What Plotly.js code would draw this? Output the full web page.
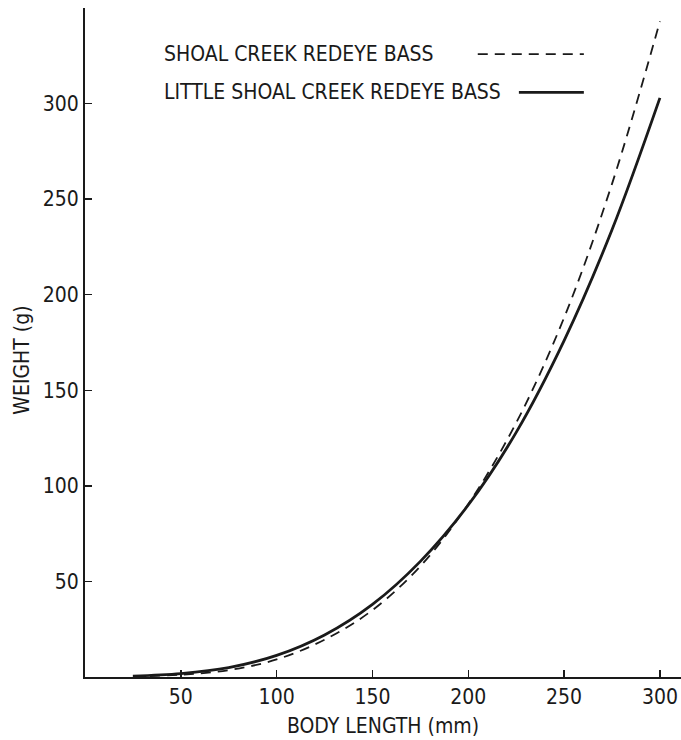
<!DOCTYPE html>
<html>
<head>
<meta charset="utf-8">
<script src="https://cdn.plot.ly/plotly-3.0.1.min.js"></script>
<style>html,body{margin:0;padding:0;background:#fff;}#chart{width:681px;height:740px;}</style>
</head>
<body>
<div id="chart"></div>
<script>
var lengthMm = [25, 50, 75, 100, 125, 150, 175, 200, 225, 250, 275, 300];
var shoalCreekWeight = [0.3, 1.2, 3.6, 9.2, 19.5, 35, 58, 90.5, 133, 188, 258, 343];
var littleShoalWeight = [0.5, 1.8, 4.9, 11.3, 22, 38, 60.5, 90, 128, 176, 234, 303];
var tickVals = [50, 100, 150, 200, 250, 300];
var tickText = ['50', '100', '150', '200', '250', '300'];
var seriesNames = ['SHOAL CREEK REDEYE BASS', 'LITTLE SHOAL CREEK REDEYE BASS'];

var FONT = '"DejaVu Sans Condensed", "Liberation Sans Narrow", "Liberation Sans", sans-serif';
var INK = '#1a1a1a';

var traces = [
  {x: lengthMm, y: shoalCreekWeight, mode: 'lines', name: seriesNames[0],
   line: {color: INK, width: 1.8, dash: '10px,7px', shape: 'spline'}, showlegend: false},
  {x: lengthMm, y: littleShoalWeight, mode: 'lines', name: seriesNames[1],
   line: {color: INK, width: 2.8, shape: 'spline'}, showlegend: false}
];

var layout = {
  width: 681, height: 740,
  margin: {l: 85, r: 0, t: 8, b: 63},
  paper_bgcolor: '#fff', plot_bgcolor: '#fff',
  font: {family: FONT, color: INK, size: 21},
  xaxis: {
    range: [0, 311], showgrid: false, zeroline: false,
    showline: true, linecolor: INK, linewidth: 2,
    ticks: 'inside', ticklen: 7, tickwidth: 1.5, tickcolor: INK,
    tickvals: tickVals, ticktext: tickText,
    tickfont: {family: FONT, size: 21, color: INK},
    title: {text: 'BODY LENGTH (mm)', font: {family: FONT, size: 21, color: INK}, standoff: 10}
  },
  yaxis: {
    range: [0, 350], showgrid: false, zeroline: false,
    showline: true, linecolor: INK, linewidth: 2,
    ticks: 'inside', ticklen: 7, tickwidth: 1.5, tickcolor: INK,
    tickvals: tickVals, ticktext: tickText,
    tickfont: {family: FONT, size: 21, color: INK}
  },
  annotations: [
    {xref: 'paper', yref: 'paper', x: -0.106, y: 0.474, xanchor: 'center', yanchor: 'middle',
     text: 'WEIGHT (g)', textangle: -90, showarrow: false, font: {family: FONT, size: 21, color: INK}},
    {xref: 'paper', yref: 'paper', x: 0.129, y: 0.931, xanchor: 'left', yanchor: 'middle',
     text: seriesNames[0], showarrow: false, font: {family: FONT, size: 21, color: INK}},
    {xref: 'paper', yref: 'paper', x: 0.129, y: 0.874, xanchor: 'left', yanchor: 'middle',
     text: seriesNames[1], showarrow: false, font: {family: FONT, size: 21, color: INK}}
  ],
  shapes: [
    {type: 'line', xref: 'paper', yref: 'paper', x0: 0.659, x1: 0.837, y0: 0.931, y1: 0.931,
     line: {color: INK, width: 1.8, dash: '10px,7px'}},
    {type: 'line', xref: 'paper', yref: 'paper', x0: 0.728, x1: 0.837, y0: 0.874, y1: 0.874,
     line: {color: INK, width: 2.8}}
  ]
};

Plotly.newPlot('chart', traces, layout, {displayModeBar: false, staticPlot: true});
</script>
</body>
</html>
